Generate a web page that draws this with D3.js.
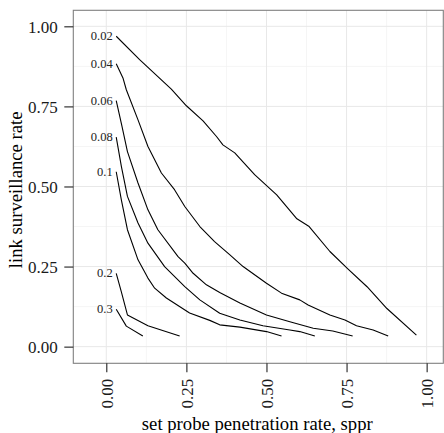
<!DOCTYPE html>
<html>
<head>
<meta charset="utf-8">
<script src="https://cdn.jsdelivr.net/npm/d3@7"></script>
<style>
  html, body { margin: 0; padding: 0; background: #fff; }
  svg, svg text { font-family: "Liberation Serif", "Times New Roman", serif; }
</style>
</head>
<body>
<svg id="chart" width="444" height="433"></svg>
<script>
// Contour levels of link surveillance rate vs. set probe penetration rate
const levelLabels = ["0.02", "0.04", "0.06", "0.08", "0.1", "0.2", "0.3"];

const sppr002 = [0.031, 0.104, 0.203, 0.250, 0.302, 0.344, 0.364, 0.401, 0.463, 0.532, 0.595, 0.632, 0.698, 0.754, 0.814, 0.876, 0.968];
const lsr002  = [0.969, 0.896, 0.804, 0.752, 0.705, 0.656, 0.630, 0.605, 0.537, 0.474, 0.399, 0.376, 0.297, 0.243, 0.187, 0.119, 0.036];

const sppr004 = [0.031, 0.052, 0.0625, 0.099, 0.130, 0.172, 0.213, 0.245, 0.292, 0.338, 0.385, 0.427, 0.500, 0.547, 0.604, 0.630, 0.698, 0.745, 0.781, 0.833, 0.880];
const lsr004  = [0.883, 0.839, 0.802, 0.708, 0.625, 0.542, 0.490, 0.4375, 0.375, 0.328, 0.287, 0.250, 0.198, 0.167, 0.146, 0.130, 0.099, 0.083, 0.065, 0.052, 0.033];

const sppr006 = [0.031, 0.049, 0.066, 0.099, 0.130, 0.161, 0.224, 0.245, 0.271, 0.3125, 0.354, 0.417, 0.500, 0.573, 0.646, 0.707, 0.769];
const lsr006  = [0.768, 0.688, 0.609, 0.511, 0.427, 0.365, 0.281, 0.261, 0.229, 0.193, 0.169, 0.136, 0.099, 0.078, 0.0575, 0.049, 0.033];

const sppr008 = [0.031, 0.047, 0.066, 0.099, 0.130, 0.182, 0.245, 0.292, 0.354, 0.417, 0.489, 0.573, 0.604, 0.651];
const lsr008  = [0.654, 0.5625, 0.469, 0.386, 0.323, 0.250, 0.1875, 0.146, 0.104, 0.083, 0.065, 0.052, 0.047, 0.033];

const sppr010 = [0.031, 0.047, 0.066, 0.099, 0.130, 0.151, 0.1875, 0.260, 0.323, 0.354, 0.417, 0.500, 0.547];
const lsr010  = [0.546, 0.458, 0.365, 0.271, 0.214, 0.1825, 0.152, 0.105, 0.082, 0.068, 0.061, 0.047, 0.033];

const sppr020 = [0.031, 0.047, 0.066, 0.130, 0.229];
const lsr020  = [0.229, 0.171, 0.099, 0.065, 0.033];

const sppr030 = [0.031, 0.0625, 0.114];
const lsr030  = [0.117, 0.064, 0.033];

const xMajor = [0, 0.25, 0.5, 0.75, 1];
const xMinor = [0.125, 0.375, 0.625, 0.875];
const yMajor = [0, 0.25, 0.5, 0.75, 1];
const yMinor = [0.125, 0.375, 0.625, 0.875];

const contours = [
  [sppr002, lsr002], [sppr004, lsr004], [sppr006, lsr006], [sppr008, lsr008],
  [sppr010, lsr010], [sppr020, lsr020], [sppr030, lsr030]
].map(([xs, ys], i) => ({
  label: levelLabels[i],
  points: xs.map((v, j) => ({ sppr: v, lsr: ys[j] }))
}));

const svg = d3.select("#chart");
const P = { left: 73.3, right: 443.3, top: 10.3, bottom: 363.3 };

const x = d3.scaleLinear().domain([-0.103, 1.052]).range([P.left, P.right]);
const y = d3.scaleLinear().domain([-0.052, 1.05]).range([P.bottom, P.top]);

// panel background
svg.append("rect")
  .attr("x", P.left).attr("y", P.top)
  .attr("width", P.right - P.left).attr("height", P.bottom - P.top)
  .attr("fill", "#fff");

const grid = svg.append("g");
// minor grid
grid.selectAll(".xm").data(xMinor).join("line")
  .attr("x1", d => x(d)).attr("x2", d => x(d))
  .attr("y1", P.top).attr("y2", P.bottom)
  .attr("stroke", "#f3f3f3").attr("stroke-width", 0.8);
grid.selectAll(".ym").data(yMinor).join("line")
  .attr("y1", d => y(d)).attr("y2", d => y(d))
  .attr("x1", P.left).attr("x2", P.right)
  .attr("stroke", "#f3f3f3").attr("stroke-width", 0.8);
// major grid
grid.selectAll(".xM").data(xMajor).join("line")
  .attr("x1", d => x(d)).attr("x2", d => x(d))
  .attr("y1", P.top).attr("y2", P.bottom)
  .attr("stroke", "#e8e8e8").attr("stroke-width", 1);
grid.selectAll(".yM").data(yMajor).join("line")
  .attr("y1", d => y(d)).attr("y2", d => y(d))
  .attr("x1", P.left).attr("x2", P.right)
  .attr("stroke", "#e8e8e8").attr("stroke-width", 1);

// contour lines
const line = d3.line().x(d => x(d.sppr)).y(d => y(d.lsr));
const cg = svg.append("g");
cg.selectAll("path").data(contours).join("path")
  .attr("d", d => line(d.points))
  .attr("fill", "none")
  .attr("stroke", "#000")
  .attr("stroke-width", 1.1)
  .attr("stroke-linejoin", "round");

// contour level labels at the start of each line
cg.selectAll("text").data(contours).join("text")
  .attr("x", d => x(d.points[0].sppr) - 3.5)
  .attr("y", d => y(d.points[0].lsr))
  .attr("dy", "0.33em")
  .attr("text-anchor", "end")
  .attr("font-size", 12.5)
  .attr("fill", "#222")
  .text(d => d.label);

// panel border
svg.append("rect")
  .attr("x", P.left).attr("y", P.top)
  .attr("width", P.right - P.left).attr("height", P.bottom - P.top)
  .attr("fill", "none").attr("stroke", "#7f7f7f").attr("stroke-width", 1.1);

const fmt = d3.format(".2f");

// y axis
const yAxis = svg.append("g")
  .attr("transform", `translate(${P.left},0)`)
  .call(d3.axisLeft(y).tickValues(yMajor).tickFormat(fmt).tickSize(9).tickPadding(6.5))
  .attr("font-family", null).attr("font-size", null);
yAxis.select(".domain").remove();
yAxis.selectAll("line").attr("stroke", "#222").attr("stroke-width", 1.1);
yAxis.selectAll("text")
  .attr("font-size", 17).attr("fill", "#1a1a1a")
  .attr("dy", "0.34em");

// x axis with rotated labels
const xAxis = svg.append("g")
  .attr("transform", `translate(0,${P.bottom})`)
  .call(d3.axisBottom(x).tickValues(xMajor).tickFormat(fmt).tickSize(9).tickPadding(6.5))
  .attr("font-family", null).attr("font-size", null);
xAxis.select(".domain").remove();
xAxis.selectAll("line").attr("stroke", "#222").attr("stroke-width", 1.1);
xAxis.selectAll("text")
  .attr("font-size", 17).attr("fill", "#1a1a1a")
  .attr("transform", "rotate(-90)")
  .attr("text-anchor", "end")
  .attr("x", -15.5)
  .attr("y", 0)
  .attr("dy", "0.34em");

// axis titles
svg.append("text")
  .attr("x", (P.left + P.right) / 2 - 1)
  .attr("y", 430)
  .attr("text-anchor", "middle")
  .attr("font-size", 18.7)
  .attr("fill", "#000")
  .text("set probe penetration rate, sppr");

svg.append("text")
  .attr("transform", `translate(22,${(P.top + P.bottom) / 2 + 3}) rotate(-90)`)
  .attr("text-anchor", "middle")
  .attr("font-size", 18.7)
  .attr("fill", "#000")
  .text("link surveillance rate");
</script>
</body>
</html>
